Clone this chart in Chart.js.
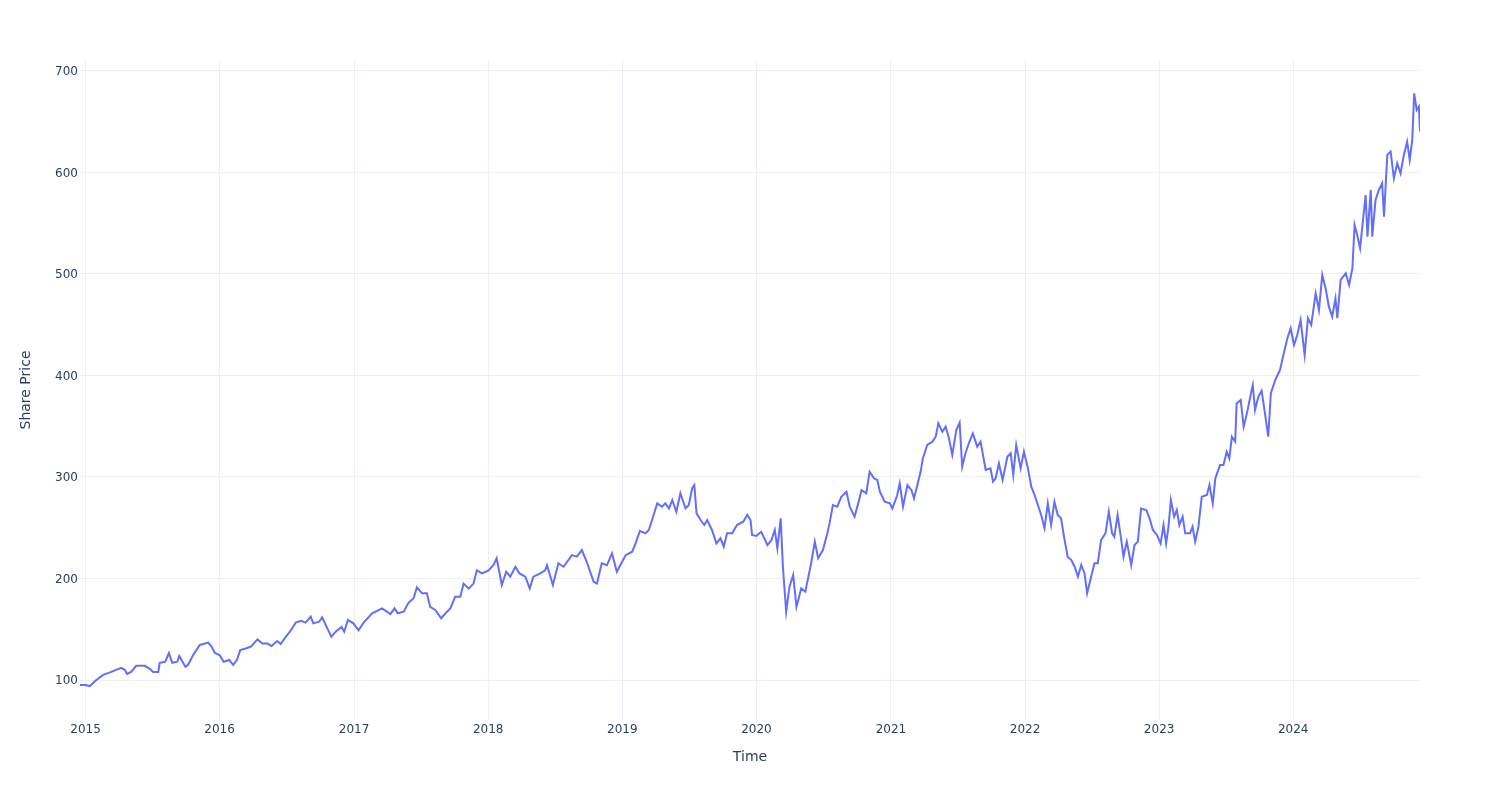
<!DOCTYPE html>
<html>
<head>
<meta charset="utf-8">
<title>Share Price</title>
<script src="https://cdn.jsdelivr.net/npm/chart.js@4.4.1/dist/chart.umd.min.js"></script>
<style>
  html, body { margin: 0; padding: 0; background: #fff; }
  #wrap { width: 1500px; height: 800px; }
</style>
</head>
<body>
<div id="wrap"><canvas id="priceChart" width="1500" height="800"></canvas></div>
<script>
// values, one row per year
var dates = [
  '2014-12-17','2014-12-31','2015-01-13','2015-01-27','2015-02-18','2015-03-12','2015-04-08','2015-04-18','2015-04-24','2015-05-05','2015-05-19','2015-06-11','2015-06-25','2015-07-04','2015-07-18','2015-07-22','2015-08-06','2015-08-16','2015-08-25','2015-09-08','2015-09-13','2015-09-30','2015-10-07','2015-10-21','2015-11-08','2015-12-01','2015-12-10','2015-12-19',
  '2016-01-01','2016-01-12','2016-01-27','2016-02-07','2016-02-17','2016-02-26','2016-03-12','2016-03-26','2016-04-13','2016-04-26','2016-05-10','2016-05-21','2016-06-06','2016-06-15','2016-06-26','2016-07-13','2016-07-26','2016-08-10','2016-08-22','2016-09-05','2016-09-12','2016-09-28','2016-10-06','2016-10-16','2016-10-31','2016-11-12','2016-11-28','2016-12-05','2016-12-15','2016-12-30',
  '2017-01-13','2017-01-27','2017-02-19','2017-03-18','2017-04-10','2017-04-21','2017-04-30','2017-05-16','2017-05-29','2017-06-12','2017-06-21','2017-07-05','2017-07-18','2017-07-27','2017-08-10','2017-08-26','2017-09-11','2017-09-20','2017-10-03','2017-10-17','2017-10-26','2017-11-09','2017-11-22','2017-12-01','2017-12-15',
  '2018-01-02','2018-01-15','2018-01-24','2018-02-07','2018-02-19','2018-03-02','2018-03-16','2018-03-27','2018-04-12','2018-04-24','2018-05-04','2018-05-23','2018-06-05','2018-06-10','2018-06-26','2018-07-11','2018-07-25','2018-08-17','2018-08-30','2018-09-13','2018-09-26','2018-10-15','2018-10-24','2018-11-06','2018-11-20','2018-12-04','2018-12-17','2018-12-28',
  '2019-01-10','2019-01-28','2019-02-06','2019-02-18','2019-03-05','2019-03-14','2019-03-23','2019-04-06','2019-04-19','2019-04-28','2019-05-08','2019-05-17','2019-05-28','2019-06-08','2019-06-22','2019-07-01','2019-07-10','2019-07-16','2019-07-22','2019-08-02','2019-08-12','2019-08-20','2019-09-02','2019-09-14','2019-09-25','2019-10-04','2019-10-13','2019-10-27','2019-11-09','2019-11-26','2019-12-07','2019-12-16','2019-12-20',
  '2020-01-01','2020-01-14','2020-01-31','2020-02-11','2020-02-20','2020-02-27','2020-03-07','2020-03-13','2020-03-22','2020-03-31','2020-04-10','2020-04-19','2020-05-02','2020-05-13','2020-05-28','2020-06-08','2020-06-17','2020-06-30','2020-07-12','2020-07-18','2020-07-27','2020-08-08','2020-08-19','2020-09-02','2020-09-11','2020-09-24','2020-10-04','2020-10-13','2020-10-26','2020-11-04','2020-11-16','2020-11-25','2020-12-02','2020-12-15','2020-12-29',
  '2021-01-05','2021-01-18','2021-01-25','2021-02-03','2021-02-15','2021-02-26','2021-03-05','2021-03-14','2021-03-23','2021-03-29','2021-04-10','2021-04-24','2021-05-03','2021-05-10','2021-05-21','2021-05-30','2021-06-08','2021-06-17','2021-06-28','2021-07-07','2021-07-14','2021-07-23','2021-08-01','2021-08-12','2021-08-24','2021-09-02','2021-09-16','2021-09-29','2021-10-06','2021-10-13','2021-10-22','2021-11-01','2021-11-14','2021-11-23','2021-11-30','2021-12-08','2021-12-20','2021-12-29',
  '2022-01-09','2022-01-18','2022-01-27','2022-02-05','2022-02-14','2022-02-23','2022-03-04','2022-03-13','2022-03-22','2022-03-31','2022-04-09','2022-04-18','2022-04-27','2022-05-07','2022-05-16','2022-05-25','2022-06-03','2022-06-12','2022-06-19','2022-06-30','2022-07-09','2022-07-18','2022-07-27','2022-08-08','2022-08-17','2022-08-26','2022-09-01','2022-09-10','2022-09-20','2022-09-26','2022-10-05','2022-10-17','2022-10-26','2022-11-04','2022-11-13','2022-11-27','2022-12-06','2022-12-15','2022-12-26',
  '2023-01-05','2023-01-13','2023-01-20','2023-01-26','2023-02-02','2023-02-11','2023-02-18','2023-02-25','2023-03-06','2023-03-13','2023-03-26','2023-04-02','2023-04-09','2023-04-18','2023-04-27','2023-05-11','2023-05-18','2023-05-27','2023-06-03','2023-06-16','2023-06-25','2023-07-04','2023-07-11','2023-07-18','2023-07-27','2023-07-31','2023-08-11','2023-08-19','2023-08-28','2023-09-07','2023-09-13','2023-09-19','2023-09-28','2023-10-07','2023-10-16','2023-10-25','2023-11-01','2023-11-13','2023-11-26','2023-12-05','2023-12-16','2023-12-25',
  '2024-01-03','2024-01-12','2024-01-21','2024-02-01','2024-02-10','2024-02-19','2024-03-02','2024-03-11','2024-03-20','2024-03-29','2024-04-07','2024-04-16','2024-04-25','2024-04-30','2024-05-09','2024-05-23','2024-06-01','2024-06-10','2024-06-16','2024-06-23','2024-07-01','2024-07-07','2024-07-16','2024-07-21','2024-07-30','2024-08-03','2024-08-12','2024-08-21','2024-08-30','2024-09-04','2024-09-13','2024-09-22','2024-10-01','2024-10-10','2024-10-19','2024-10-28','2024-11-06','2024-11-13','2024-11-20','2024-11-25','2024-12-02','2024-12-08','2024-12-11'
];
var prices = [
  95,95,94,99,105,108,112,110,106,108,114,114,111,108,108,117,118,126.5,117,118,123.6,113,115,124.6,134.5,136.8,133,126.6,
  124.6,118,119.7,114.8,119.7,129.5,131,132.8,140,136,136,133.5,138.4,135.5,141,149,156.5,158.4,156.5,162.4,155.8,157.4,161.8,154,142.7,147.6,152.5,147.6,159,155.8,
  149,156.5,165.7,170.6,165,170.6,165.7,167.3,176,180.5,191.3,185.4,185.4,172,169,160.8,167.3,170.6,182,182,195,190,195,208,205,
  208,213,219.9,193.6,206.7,201.8,211.6,205,201.8,190.3,201.8,205,208,213,193.6,215,211.6,223,221.5,228,216.5,196.8,195,215,213,224.8,206.7,214,
  223,226.4,234.6,247,244.5,247.8,257.6,274,270.7,274,269,277.3,265.8,284,269,272.4,288.9,292,264.2,257.6,252.7,257.6,247.8,234.6,239.6,231.3,244.5,244.5,252.7,256,262.6,257.6,242.9,
  242,246,233,238,247.8,229.7,259.3,211.6,167.3,191.9,203.4,172,190.3,187,213.3,236.3,220,228,244.5,254.3,272.4,270.7,280.5,285.5,270.7,260.9,274,287,284,305.3,298.7,297,285.5,275.7,274,
  269,282,293.7,270.7,292,287,278.9,292,305.3,318.5,331.5,334.8,339.7,352.9,344.6,349.6,338.1,321.7,346.3,353.5,310.2,323.4,333.2,343,329.9,334.8,306.9,308.5,295.4,298.7,313.5,297,320,323.4,302,331.5,308.5,324.9,
  308.5,290.4,282.3,272.4,262.6,249.5,274,252.7,275.7,262.6,259.3,239.6,221.5,218.2,211.6,201.8,213.3,205,185.4,201.8,214.9,214.9,237.9,244.5,265.8,244.5,241.2,262.6,237.9,221.5,236.3,213.3,233,236.3,269,267.5,259.3,247.8,242.9,
  234.6,252.7,234.6,249.5,277.3,261,267.5,252.7,261,244.5,244.5,251,236.3,251,280.6,282.3,292.1,274,298.7,311.8,311.8,324.9,318.4,339.7,334.8,372.5,375.9,349.6,362.7,380.8,390.6,366,379.1,385,362.7,339.7,382.4,395.6,405.4,420,436.6,446.5,
  430,439.9,454.7,420.2,456.4,449.8,481,464.5,499,485.9,467.8,458,476,456.4,494.1,500.7,489.2,505.6,548.3,538.4,525.3,546.6,577.8,536.8,582.8,536.8,572.9,582.8,589.3,556.5,617.2,620.5,594.3,609.1,599.2,617.2,630.3,612.3,632,678,661.6,665,640.3
];
var tickYears = [2015, 2016, 2017, 2018, 2019, 2020, 2021, 2022, 2023, 2024];
var priceTicks = [100, 200, 300, 400, 500, 600, 700];

var points = dates.map(function (d, i) {
  return { x: Date.parse(d), y: prices[i] };
});

var gridColor = '#ebf0f8';
var textColor = '#2a3f5f';
Chart.defaults.font.family = '"DejaVu Sans", Verdana, sans-serif';

new Chart(document.getElementById('priceChart'), {
  type: 'line',
  data: {
    datasets: [{
      data: points,
      borderColor: '#636efa',
      borderWidth: 2,
      pointRadius: 0,
      tension: 0,
      fill: false
    }]
  },
  options: {
    responsive: false,
    animation: false,
    layout: { padding: { top: 60, right: 80, left: 0, bottom: 0 } },
    plugins: { legend: { display: false }, tooltip: { enabled: false } },
    scales: {
      x: {
        type: 'linear',
        min: points[0].x,
        max: points[points.length - 1].x,
        afterBuildTicks: function (axis) {
          axis.ticks = tickYears.map(function (y) { return { value: Date.UTC(y, 0, 1) }; });
        },
        afterFit: function (axis) { axis.height = 80; },
        grid: { color: gridColor, drawTicks: false },
        border: { display: false },
        ticks: {
          color: textColor, font: { size: 12 }, padding: 3,
          maxRotation: 0, autoSkip: false,
          callback: function (v) { return new Date(v).getUTCFullYear(); }
        },
        title: { display: true, text: 'Time', color: textColor, font: { size: 14 }, padding: { bottom: 34.6 } }
      },
      y: {
        min: 60.6,
        max: 710.8,
        afterBuildTicks: function (axis) {
          axis.ticks = priceTicks.map(function (v) { return { value: v }; });
        },
        afterFit: function (axis) { axis.width = 80; },
        grid: { color: gridColor, drawTicks: false },
        border: { display: false },
        ticks: { color: textColor, font: { size: 12 }, padding: 2, labelOffset: 1 },
        title: { display: true, text: 'Share Price', color: textColor, font: { size: 14 }, padding: { top: 18.1 } }
      }
    }
  }
});
</script>
</body>
</html>
